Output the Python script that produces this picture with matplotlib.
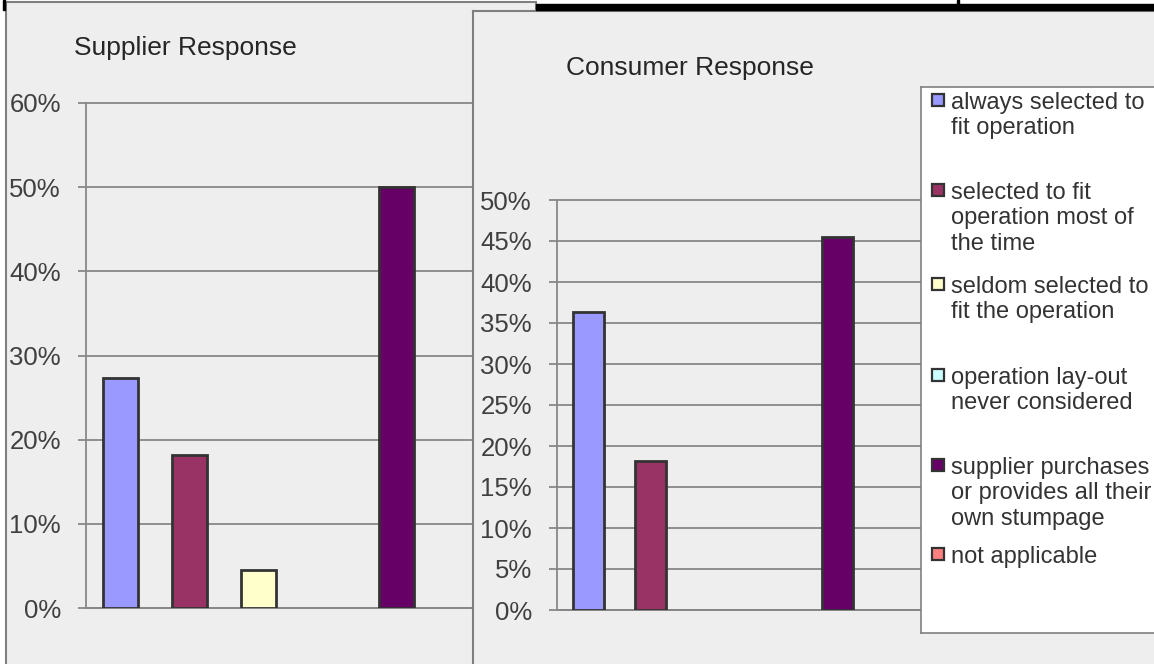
import numpy as np
import matplotlib
matplotlib.use('Agg')
import matplotlib.pyplot as plt
from matplotlib.patches import Rectangle

plt.rcParams['font.family'] = ['Liberation Sans', 'DejaVu Sans']

W, H = 1154, 664

categories = ['always selected to\nfit operation',
              'selected to fit\noperation most of\nthe time',
              'seldom selected to\nfit the operation',
              'operation lay-out\nnever considered',
              'supplier purchases\nor provides all their\nown stumpage',
              'not applicable']
supplier = [0.273, 0.182, 0.045, 0.0, 0.50, 0.0]
consumer = [0.364, 0.182, 0.0, 0.0, 0.455, 0.0]
colors = ['#9999FF', '#993366', '#FFFFCC', '#CCFFFF', '#660066', '#FF8080']
sup_ticks = [0.0, 0.1, 0.2, 0.3, 0.4, 0.5, 0.6]
con_ticks = [0.0, 0.05, 0.10, 0.15, 0.20, 0.25, 0.30, 0.35, 0.40, 0.45, 0.50]

fig = plt.figure(figsize=(W / 100, H / 100), dpi=100)
fig.patch.set_facecolor('white')


def px(x0, y0, x1, y1):
    # pixel box (top-left origin) -> figure fraction rect
    return [x0 / W, 1 - y1 / H, (x1 - x0) / W, (y1 - y0) / H]


def panel(x0, y0, x1, y1):
    a = fig.add_axes(px(x0, y0, x1, y1))
    a.set_facecolor('#EEEEEE')
    a.set_xticks([])
    a.set_yticks([])
    for s in a.spines.values():
        s.set_color('#7F7F7F')
        s.set_linewidth(1.5)
    return a


def draw_bars(ax, values, ticks):
    x = np.arange(len(values))
    bars = ax.bar(x, values, width=0.5, color=colors, edgecolor='#333333',
                  linewidth=2.0, zorder=3)
    for b, v in zip(bars, values):
        if v == 0:
            b.set_visible(False)
    ax.set_xlim(-0.5, len(values) - 0.5)
    ax.set_ylim(0, ticks[-1])
    ax.set_yticks(ticks)
    ax.set_yticklabels(['%d%%' % round(t * 100) for t in ticks])
    ax.set_xticks([])
    ax.patch.set_alpha(0)
    ax.yaxis.grid(True, color='#878787', linewidth=1.3)
    ax.set_axisbelow(True)
    for g in ax.get_ygridlines():
        g.set_clip_on(False)
    for s in ['top', 'right']:
        ax.spines[s].set_visible(False)
    for s in ['left', 'bottom']:
        ax.spines[s].set_color('#878787')
        ax.spines[s].set_linewidth(1.3)
    ax.tick_params(axis='y', length=6, width=1.3, color='#878787', pad=12,
                   labelsize=18.5, labelcolor='#404040')


# left chart
panel(5.5, 2, 536, 720)
axL = fig.add_axes(px(86, 103, 500, 608))
draw_bars(axL, supplier, sup_ticks)
fig.text(74 / W, 1 - 55 / H, 'Supplier Response', fontsize=19,
         color='#262626', va='baseline')

# right chart
panel(473, 11, 1200, 720)
axR = fig.add_axes(px(557, 200, 931, 610))
draw_bars(axR, consumer, con_ticks)
fig.text(566 / W, 1 - 75 / H, 'Consumer Response', fontsize=19,
         color='#262626', va='baseline')

# legend box
lg = fig.add_axes(px(921, 87, 1200, 633))
lg.set_facecolor('white')
lg.set_xticks([])
lg.set_yticks([])
for s in lg.spines.values():
    s.set_color('#808080')
    s.set_linewidth(1.2)

tops = [93, 183, 277, 368, 458, 547]
for top, lab, c in zip(tops, categories, colors):
    fig.add_artist(Rectangle((932 / W, 1 - (top + 13) / H), 12 / W, 12 / H,
                             transform=fig.transFigure, facecolor=c,
                             edgecolor='#333333', linewidth=1.6, zorder=5))
    fig.text(951 / W, 1 - (top - 1) / H, lab, fontsize=17, color='#333333',
             va='top', ha='left', zorder=5)

# black border bits at the top
fig.add_artist(Rectangle((536 / W, 1 - 10 / H), (W - 536) / W, 6 / H,
                         transform=fig.transFigure, color='black', zorder=5))
fig.add_artist(Rectangle((957 / W, 1 - 4 / H), 2 / W, 4 / H,
                         transform=fig.transFigure, color='black', zorder=5))
fig.add_artist(Rectangle((3 / W, 1 - 10 / H), 2 / W, 10 / H,
                         transform=fig.transFigure, color='black', zorder=5))

fig.savefig('out.png', dpi=100)
